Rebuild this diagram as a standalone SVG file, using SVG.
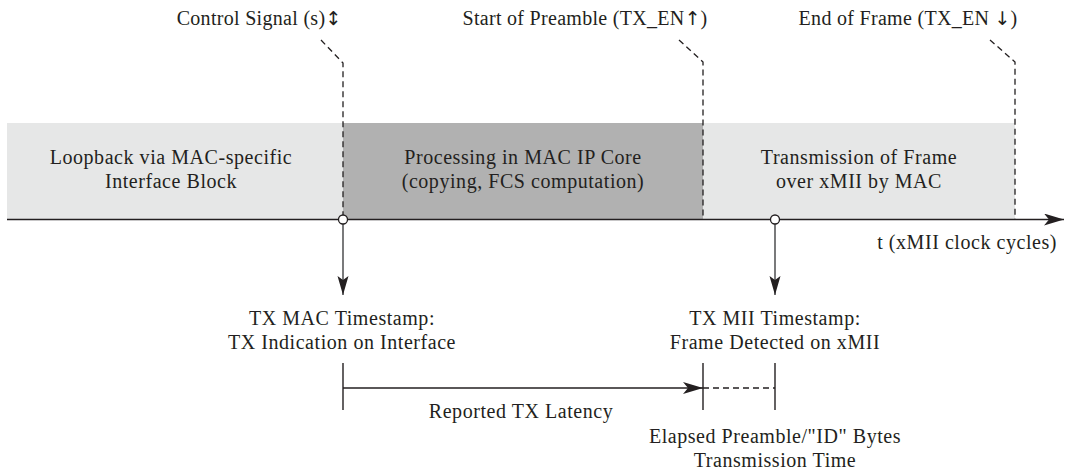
<svg xmlns="http://www.w3.org/2000/svg" width="1066" height="474" viewBox="0 0 1066 474">
  <defs>
    <style>
      .t { font-family: "Liberation Serif", "DejaVu Serif", serif; font-size: 20px; letter-spacing: 0.55px; fill: #231f20; text-anchor: middle; }
      .ev { letter-spacing: 0.3px; }
      .arr { font-family: "DejaVu Sans", sans-serif; font-size: 19px; letter-spacing: 0; }
      .band-light { fill: #e6e7e7; }
      .band-dark { fill: #b1b1b1; }
      .dash { fill: none; stroke: #231f20; stroke-width: 1.3; stroke-dasharray: 6 4; }
      .solid { fill: none; stroke: #231f20; stroke-width: 1.4; }
      .probe { fill: none; stroke: #58595b; stroke-width: 1.6; }
      .dot { fill: #ffffff; stroke: #231f20; stroke-width: 1.3; }
    </style>
    <!-- notched arrowhead, tip at the line end -->
    <marker id="head" markerUnits="userSpaceOnUse" markerWidth="22" markerHeight="14" refX="20" refY="6" orient="auto">
      <path d="M0,0 L20,6 L0,12 L5,6 Z" fill="#231f20"/>
    </marker>
    <marker id="headGray" markerUnits="userSpaceOnUse" markerWidth="22" markerHeight="14" refX="20" refY="6" orient="auto">
      <path d="M1,0.5 L20,6 L1,11.5 L5,6 Z" fill="#231f20"/>
    </marker>
  </defs>

  <!-- phase bands -->
  <g id="band-loopback">
    <rect class="band-light" x="7" y="123" width="336" height="96"/>
    <text class="t" x="171" y="164">Loopback via MAC-specific</text>
    <text class="t" x="171" y="188">Interface Block</text>
  </g>
  <g id="band-processing">
    <rect class="band-dark" x="343" y="123" width="360" height="96"/>
    <text class="t" x="523" y="164">Processing in MAC IP Core</text>
    <text class="t" x="523" y="188">(copying, FCS computation)</text>
  </g>
  <g id="band-transmission">
    <rect class="band-light" x="703" y="123" width="312" height="96"/>
    <text class="t" x="859" y="164">Transmission of Frame</text>
    <text class="t" x="859" y="188">over xMII by MAC</text>
  </g>

  <!-- event labels above the time axis -->
  <g id="ev-control">
    <text class="t ev" x="259" y="25">Control Signal (s)<tspan class="arr">↕</tspan></text>
  </g>
  <g id="ev-preamble">
    <text class="t ev" x="585" y="25">Start of Preamble (TX_EN<tspan class="arr">↑</tspan>)</text>
  </g>
  <g id="ev-end">
    <text class="t ev" x="908" y="25">End of Frame (TX_EN <tspan class="arr">↓</tspan>)</text>
  </g>

  <!-- time axis -->
  <g id="axis">
    <line class="solid" x1="7" y1="219.5" x2="1064" y2="219.5" marker-end="url(#head)"/>
    <text class="t" x="1057" y="249" style="text-anchor:end">t (xMII clock cycles)</text>
  </g>

  <!-- timestamp labels -->
  <g id="ts-mac">
    <text class="t" x="342" y="325">TX MAC Timestamp:</text>
    <text class="t" x="342" y="349">TX Indication on Interface</text>
  </g>
  <g id="ts-mii">
    <text class="t" x="775" y="325">TX MII Timestamp:</text>
    <text class="t" x="775" y="349">Frame Detected on xMII</text>
  </g>

  <!-- latency brackets -->
  <g id="latency">
    <text class="t" x="521" y="418">Reported TX Latency</text>
  </g>
  <g id="elapsed">
    <text class="t" x="775" y="443">Elapsed Preamble/"ID" Bytes</text>
    <text class="t" x="775" y="467">Transmission Time</text>
  </g>

  <g id="connectors">
    <!-- event leaders -->
    <path class="dash" d="M321,40 L343,63 L343,219"/>
    <path class="dash" d="M679,40 L703,62 L703,219"/>
    <path class="dash" d="M990,40 L1015,62 L1015,219"/>
    <!-- timestamp probes -->
    <line class="probe" x1="343" y1="224" x2="343" y2="295" marker-end="url(#headGray)"/>
    <line class="probe" x1="775" y1="224" x2="775" y2="295" marker-end="url(#headGray)"/>
    <circle class="dot" cx="343" cy="219.5" r="4.5"/>
    <circle class="dot" cx="775" cy="219.5" r="4.5"/>
    <!-- bracket ticks -->
    <line class="solid" x1="343" y1="363" x2="343" y2="410"/>
    <line class="solid" x1="703" y1="363" x2="703" y2="410"/>
    <line class="solid" x1="775" y1="363" x2="775" y2="410"/>
    <line class="solid" x1="343" y1="388" x2="703" y2="388" marker-end="url(#head)"/>
    <line class="dash" x1="703" y1="388" x2="775" y2="388"/>
  </g>
</svg>
